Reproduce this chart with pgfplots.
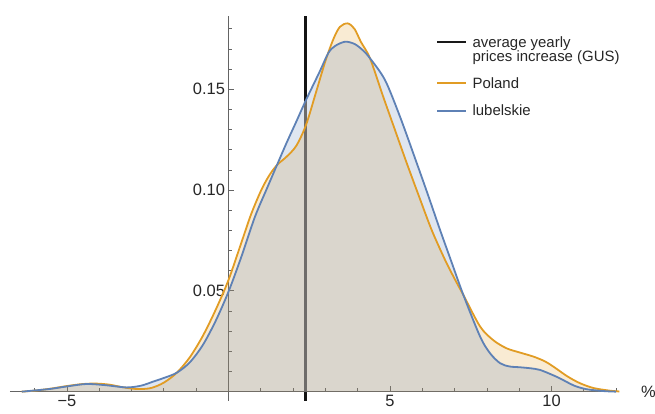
\documentclass[border=0pt]{standalone}
\usepackage{pgfplots}
\pgfplotsset{compat=1.18}
\usepackage{pgfplotstable}
\usepackage{fontspec}
\setmainfont{Liberation Sans}
\definecolor{mOrange}{RGB}{225,156,36}
\definecolor{mBlue}{RGB}{94,129,181}
\definecolor{axgray}{RGB}{100,100,100}
\definecolor{lineunder}{RGB}{110,108,106}
\pgfplotstableread{
x y
-6.40 0.0000
-6.00 0.0005
-5.50 0.0015
-5.00 0.0028
-4.50 0.0038
-4.10 0.0040
-3.70 0.0035
-3.20 0.0020
-2.80 0.0013
-2.40 0.0018
-2.00 0.0045
-1.60 0.0094
-1.20 0.0170
-0.80 0.0275
-0.40 0.0405
0.00 0.0554
0.40 0.0740
0.70 0.0880
1.00 0.0995
1.25 0.1070
1.50 0.1124
1.80 0.1166
2.10 0.1220
2.40 0.1323
2.70 0.1480
3.00 0.1640
3.25 0.1750
3.45 0.1810
3.69 0.1827
3.90 0.1800
4.10 0.1735
4.38 0.1654
4.79 0.1463
5.15 0.1300
5.52 0.1133
5.90 0.0968
6.29 0.0802
6.70 0.0655
7.00 0.0560
7.27 0.0480
7.79 0.0323
8.20 0.0255
8.61 0.0215
9.00 0.0195
9.44 0.0174
9.80 0.0150
10.06 0.0124
10.50 0.0075
10.88 0.0042
11.30 0.0018
11.80 0.0005
12.10 0.0001
}\poland
\pgfplotstableread{
x y
-6.40 0.0000
-6.00 0.0006
-5.50 0.0014
-5.00 0.0026
-4.40 0.0038
-3.80 0.0032
-3.15 0.0021
-2.70 0.0030
-2.33 0.0050
-2.00 0.0068
-1.60 0.0094
-1.20 0.0145
-0.80 0.0230
-0.40 0.0350
0.00 0.0496
0.40 0.0670
0.82 0.0868
1.20 0.1012
1.50 0.1124
1.80 0.1235
2.10 0.1340
2.40 0.1447
2.83 0.1590
3.09 0.1680
3.30 0.1715
3.61 0.1736
3.90 0.1725
4.15 0.1695
4.38 0.1654
4.845 0.1546
5.31 0.1364
5.83 0.1133
6.20 0.0965
6.55 0.0802
6.90 0.0645
7.27 0.0480
7.79 0.0273
8.10 0.0190
8.41 0.0141
8.70 0.0125
9.02 0.0121
9.35 0.0116
9.64 0.0108
10.00 0.0085
10.26 0.0066
10.70 0.0030
11.09 0.0012
11.60 0.0003
12.00 0.0000
}\lubel
\begin{document}
\begin{tikzpicture}
\begin{axis}[
  scale only axis, width=609.5bp, height=385bp,
  axis lines=middle,
  axis line style={-, draw=axgray, line width=0.8bp},
  xmin=-6.77, xmax=12.1, ymin=-0.0045, ymax=0.1865,
  xtick={-5,5,10}, xticklabels={−5,5,10},
  minor xtick={-6,-4,-3,-2,-1,1,2,3,4,6,7,8,9,11,12},
  ytick={0.05,0.10,0.15}, yticklabels={0.05,0.10,0.15},
  minor ytick={0.01,0.02,0.03,0.04,0.06,0.07,0.08,0.09,0.11,0.12,0.13,0.14,0.16,0.17,0.18},
  tick align=inside,
  major tick length=6bp, minor tick length=4bp,
  tick style={draw=axgray, line width=0.8bp},
  ticklabel style={font=\fontsize{16.5}{19}\selectfont, text=black!85},
  xlabel={\%},
  x label style={at={(current axis.right of origin)}, anchor=west, xshift=21.5bp, inner sep=0pt, font=\fontsize{16.5}{19}\selectfont, text=black!85},
  clip=false,
]
\addplot[black!92, line width=2.7bp] coordinates {(2.38,-0.0045) (2.38,0.1865)};
\addplot[draw=none, fill=mOrange, fill opacity=0.2, smooth] table[x=x,y=y]{\poland} \closedcycle;
\addplot[draw=none, fill=mBlue, fill opacity=0.2, smooth] table[x=x,y=y]{\lubel} \closedcycle;
\addplot[lineunder, line width=2.7bp] coordinates {(2.38,0) (2.38,0.1440)};
\addplot[mOrange, line width=1.8bp, smooth] table[x=x,y=y]{\poland};
\addplot[mBlue, line width=1.8bp, smooth] table[x=x,y=y]{\lubel};
% legend
\draw[black!90, line width=2.4bp] (axis cs:6.455,0.1736) -- (axis cs:7.353,0.1736);
\draw[mOrange, line width=2bp] (axis cs:6.455,0.1530) -- (axis cs:7.353,0.1530);
\draw[mBlue, line width=2bp] (axis cs:6.455,0.1394) -- (axis cs:7.353,0.1394);
\node[anchor=base west, inner sep=0pt, font=\fontsize{15}{17}\selectfont, text=black!85] at (axis cs:7.55,0.17083) {average yearly};
\node[anchor=base west, inner sep=0pt, font=\fontsize{15}{17}\selectfont, text=black!85] at (axis cs:7.55,0.16369) {prices increase (GUS)};
\node[anchor=base west, inner sep=0pt, font=\fontsize{15}{17}\selectfont, text=black!85] at (axis cs:7.55,0.15050) {Poland};
\node[anchor=base west, inner sep=0pt, font=\fontsize{15}{17}\selectfont, text=black!85] at (axis cs:7.55,0.13690) {lubelskie};
\coordinate (bbsw) at (axis cs:-7.074,-0.01106);
\coordinate (bbne) at (axis cs:13.204,0.1943);
\end{axis}
\pgfresetboundingbox
\path (bbsw) rectangle (bbne);
\end{tikzpicture}
\end{document}
